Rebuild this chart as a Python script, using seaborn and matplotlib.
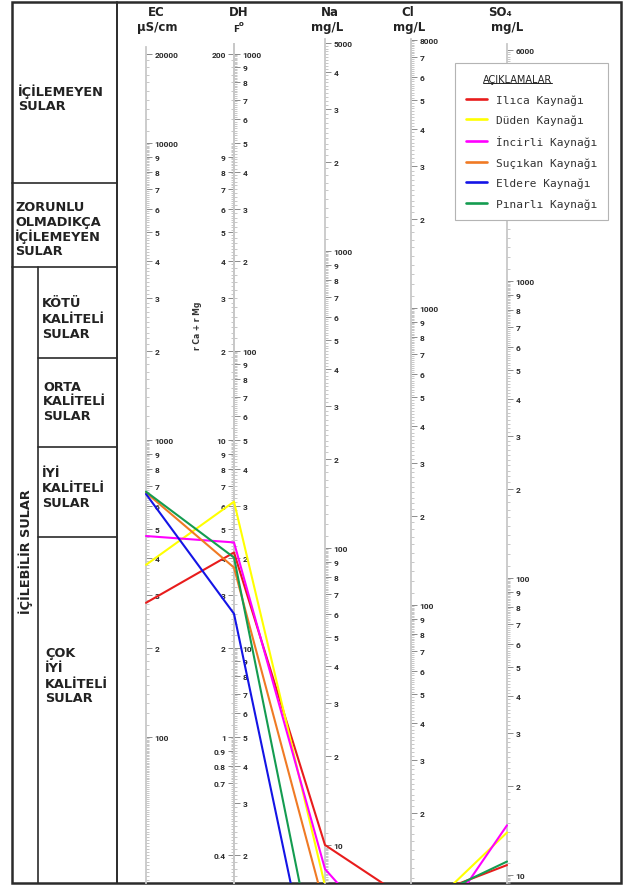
import numpy as np
import pandas as pd
import matplotlib
matplotlib.use("Agg")
import matplotlib.pyplot as plt
from matplotlib.ticker import FixedLocator, FixedFormatter, NullFormatter
from matplotlib.font_manager import FontProperties
from matplotlib.patches import Rectangle
from matplotlib.lines import Line2D
import seaborn as sns

# ---------------- data ----------------
springs = ["Ilıca Kaynağı", "Düden Kaynağı", "İncirli Kaynağı",
           "Suçıkan Kaynağı", "Eldere Kaynağı", "Pınarlı Kaynağı"]
ec = [283, 380, 475, 665, 658, 670]           # µS/cm
dh = [20.9, 31.0, 22.6, 18.6, 13.0, 20.1]     # Fransız sertliği (F°)
na = [10.0, 7.3, 8.3, 6.1, 2.1, 2.8]          # mg/L
cl = [10.0, 8.4, 6.1, 7.0, 5.5, 9.6]          # mg/L
so4 = [10.8, 13.9, 14.7, 8.0, 6.5, 11.1]      # mg/L
colors = ["#e81c1c", "#ffff00", "#ff00ff", "#f07a24", "#1414e6", "#149c50"]

# tick values / labels of every scale
ec_ticks = [20000, 10000, 9000, 8000, 7000, 6000, 5000, 4000, 3000, 2000,
            1000, 900, 800, 700, 600, 500, 400, 300, 200, 100]
ec_labels = ["20000", "10000", "9", "8", "7", "6", "5", "4", "3", "2",
             "1000", "9", "8", "7", "6", "5", "4", "3", "2", "100"]
meq_ticks = [200, 90, 80, 70, 60, 50, 40, 30, 20, 10, 9, 8, 7, 6, 5, 4, 3, 2,
             1, 0.9, 0.8, 0.7, 0.4]
meq_labels = ["200", "9", "8", "7", "6", "5", "4", "3", "2", "10", "9", "8",
              "7", "6", "5", "4", "3", "2", "1", "0.9", "0.8", "0.7", "0.4"]
fr_ticks = [1000, 900, 800, 700, 600, 500, 400, 300, 200, 100, 90, 80, 70,
            60, 50, 40, 30, 20, 10, 9, 8, 7, 6, 5, 4, 3, 2]
fr_labels = ["1000", "9", "8", "7", "6", "5", "4", "3", "2", "100", "9", "8",
             "7", "6", "5", "4", "3", "2", "10", "9", "8", "7", "6", "5", "4",
             "3", "2"]
na_ticks = [5000, 4000, 3000, 2000, 1000, 900, 800, 700, 600, 500, 400, 300,
            200, 100, 90, 80, 70, 60, 50, 40, 30, 20, 10]
na_labels = ["5000", "4", "3", "2", "1000", "9", "8", "7", "6", "5", "4", "3",
             "2", "100", "9", "8", "7", "6", "5", "4", "3", "2", "10"]
cl_ticks = [8000, 7000, 6000, 5000, 4000, 3000, 2000, 1000, 900, 800, 700,
            600, 500, 400, 300, 200, 100, 90, 80, 70, 60, 50, 40, 30, 20]
cl_labels = ["8000", "7", "6", "5", "4", "3", "2", "1000", "9", "8", "7",
             "6", "5", "4", "3", "2", "100", "9", "8", "7", "6", "5", "4",
             "3", "2"]
# the 2000-5000 part of the SO4 scale sits behind the legend box
so4_ticks = [6000, 1000, 900, 800, 700, 600, 500,
             400, 300, 200, 100, 90, 80, 70, 60, 50, 40, 30, 20, 10]
so4_labels = ["6000", "1000", "9", "8", "7", "6", "5",
              "4", "3", "2", "100", "9", "8", "7", "6", "5", "4", "3", "2",
              "10"]

# ---------------- layout (pixels) ----------------
W, H = 630, 887
X0, X1 = 117, 621          # plotting area, left / right
TOP, BOTTOM = 3, 884       # plotting area, top / bottom
DECADE = 297.0             # pixel height of one logarithmic decade
col_x = {"EC": 146, "DH": 234, "Na": 325, "Cl": 411, "SO4": 507}
# each scale: (reference value, pixel row of that value)
scale_ref = {"EC": (1000, 441), "MEQ": (10, 441), "DH": (50, 441),
             "Na": (1000, 252), "Cl": (1000, 309), "SO4": (1000, 282)}
spine_top = {"EC": 48, "MEQ": 45, "DH": 45, "Na": 40, "Cl": 40, "SO4": 45}


def value_at(px, key):
    ref_v, ref_px = scale_ref[key]
    return ref_v * 10 ** ((ref_px - px) / DECADE)


def minor_values(lo, hi):
    vals = []
    for d in range(int(np.floor(np.log10(lo))) - 1, int(np.ceil(np.log10(hi))) + 1):
        for k in range(10, 100):
            v = k * 10.0 ** (d - 1)
            if lo <= v <= hi:
                vals.append(v)
    return vals


sns.set_theme(style="white")
plt.rcParams["font.family"] = ["DejaVu Sans"]

fig = plt.figure(figsize=(W / 100, H / 100), dpi=100)
fig.patch.set_facecolor("white")
rect = [X0 / W, 1 - BOTTOM / H, (X1 - X0) / W, (BOTTOM - TOP) / H]

# ---------------- frame and quality table ----------------
bg = fig.add_axes([0, 0, 1, 1])
bg.set_xlim(0, W)
bg.set_ylim(H, 0)
bg.axis("off")
dark = "#2b2b2b"
bg.add_patch(Rectangle((12, 3), 609, 881, fill=False, ec=dark, lw=1.8))
bg.plot([X0, X0], [3, 884], color=dark, lw=1.4)
bg.plot([38, 38], [268, 884], color=dark, lw=1.2)
for y, x_start in [(184, 12), (268, 12), (359, 38), (448, 38), (538, 38)]:
    bg.plot([x_start, X0], [y, y], color=dark, lw=1.2)

tfont = dict(family="DejaVu Sans", weight="bold", size=9.3, color="#222222",
             va="center", ha="left")
blocks = [
    (18, [("İÇİLEMEYEN", 92), ("SULAR", 106)]),
    (15, [("ZORUNLU", 208), ("OLMADIKÇA", 223), ("İÇİLEMEYEN", 237), ("SULAR", 252)]),
    (42, [("KÖTÜ", 304), ("KALİTELİ", 320), ("SULAR", 335)]),
    (43, [("ORTA", 388), ("KALİTELİ", 402), ("SULAR", 417)]),
    (42, [("İYİ", 474), ("KALİTELİ", 489), ("SULAR", 504)]),
    (45, [("ÇOK", 654), ("İYİ", 669), ("KALİTELİ", 685), ("SULAR", 699)]),
]
for x, lines in blocks:
    for txt, y in lines:
        bg.text(x, y, txt, **tfont)
bg.text(26, 552, "İÇİLEBİLİR SULAR", rotation=90, ha="center", va="center",
        family="DejaVu Sans", weight="bold", size=9.3, color="#222222")

hfont = dict(family="DejaVu Sans", weight="bold", size=8.5, color="#222222",
             ha="center", va="center")
bg.text(156, 13, "EC", **hfont)
bg.text(157, 27, "µS/cm", **hfont)
bg.text(239, 12, "DH", **hfont)
bg.text(236, 29, "F", **dict(hfont, size=6.5))
bg.text(241.5, 24.5, "o", **dict(hfont, size=5))
bg.text(330, 13, "Na", **hfont)
bg.text(327, 27, "mg/L", **hfont)
bg.text(408, 13, "Cl", **hfont)
bg.text(409, 27, "mg/L", **hfont)
bg.text(500, 13, "SO₄", **hfont)
bg.text(507, 27, "mg/L", **hfont)
bg.text(197, 326, "r Ca + r Mg", rotation=90, ha="center", va="center",
        family="DejaVu Sans", weight="bold", size=5.5, color="#333333")


# ---------------- logarithmic scales ----------------
def scale_axis(key, side, x, ticks, labels):
    ax = fig.add_axes(rect, facecolor="none")
    ax.set_xlim(X0, X1)
    ax.set_yscale("log")
    lo, hi = value_at(BOTTOM, key), value_at(TOP, key)
    ax.set_ylim(lo, hi)
    top_v = value_at(spine_top[key], key)
    for s in ax.spines.values():
        s.set_visible(False)
    sp = ax.spines[side]
    sp.set_visible(True)
    sp.set_position(("data", x))
    sp.set_bounds(lo, top_v)
    sp.set_color("#c8c8c8")
    sp.set_linewidth(1.3)
    ax.xaxis.set_visible(False)
    ax.yaxis.set_ticks_position(side)
    ax.yaxis.set_major_locator(FixedLocator(ticks))
    ax.yaxis.set_major_formatter(FixedFormatter(labels))
    ax.yaxis.set_minor_locator(FixedLocator(minor_values(lo, min(top_v, max(ticks)))))
    ax.yaxis.set_minor_formatter(NullFormatter())
    ax.tick_params(axis="y", which="major", direction="out", length=4.5,
                   width=0.7, color="#8c8c8c", pad=1.5, labelsize=6.0,
                   labelcolor="#2a2a2a")
    ax.tick_params(axis="y", which="minor", direction="out", length=2.3,
                   width=0.5, color="#b0b0b0")
    for t in ax.yaxis.get_majorticklabels():
        t.set_fontfamily("Roboto")
        t.set_fontweight("bold")
    ax.grid(False)
    return ax


scale_axis("EC", "right", col_x["EC"], ec_ticks, ec_labels)
scale_axis("MEQ", "left", col_x["DH"], meq_ticks, meq_labels)
scale_axis("DH", "right", col_x["DH"], fr_ticks, fr_labels)
scale_axis("Na", "right", col_x["Na"], na_ticks, na_labels)
scale_axis("Cl", "right", col_x["Cl"], cl_ticks, cl_labels)
scale_axis("SO4", "right", col_x["SO4"], so4_ticks, so4_labels)

# ---------------- spring profiles ----------------
series = {"EC": ec, "DH": dh, "Na": na, "Cl": cl, "SO4": so4}
ec_lo = value_at(BOTTOM, "EC")
rows = []
for i, name in enumerate(springs):
    for key, vals in series.items():
        # bring every parameter onto the common EC-equivalent log scale
        factor = ec_lo / value_at(BOTTOM, key)
        rows.append({"kaynak": name, "x": col_x[key], "y": vals[i] * factor})
df = pd.DataFrame(rows)

ax = fig.add_axes(rect, facecolor="none")
ax.set_yscale("log")
sns.lineplot(data=df, x="x", y="y", hue="kaynak", hue_order=springs,
             palette=dict(zip(springs, colors)), estimator=None, sort=False,
             linewidth=1.5, legend=False, ax=ax)
ax.set_xlim(X0, X1)
ax.set_ylim(ec_lo, value_at(TOP, "EC"))
ax.set_axis_off()
ax.set_zorder(5)

handles = [Line2D([], [], color=c, lw=1.9) for c in colors]
leg = fig.legend(handles, springs, loc="upper left",
                 bbox_to_anchor=(455 / W, 1 - 64 / H), borderaxespad=0,
                 prop=FontProperties(family="DejaVu Sans Mono", size=8),
                 title="AÇIKLAMALAR",
                 title_fontproperties=FontProperties(family="DejaVu Sans", size=7),
                 alignment="left", frameon=True, fancybox=False, framealpha=1,
                 edgecolor="#b4b4b4", facecolor="white", borderpad=1.0,
                 labelspacing=0.9, handlelength=1.9, handletextpad=0.8)
leg.get_frame().set_linewidth(0.8)
leg.set_zorder(10)
for t in leg.get_texts():
    t.set_color("#333333")
title = leg.get_title()
title.set_color("#222222")
title.set_x(17)

fig.canvas.draw()
bb = title.get_window_extent()
fig.add_artist(Line2D([bb.x0 / W, bb.x1 / W], [(bb.y0 + 1) / H] * 2,
                      transform=fig.transFigure, color="#222222", lw=0.7,
                      zorder=11))

fig.savefig("out.png", dpi=100, facecolor="white")
